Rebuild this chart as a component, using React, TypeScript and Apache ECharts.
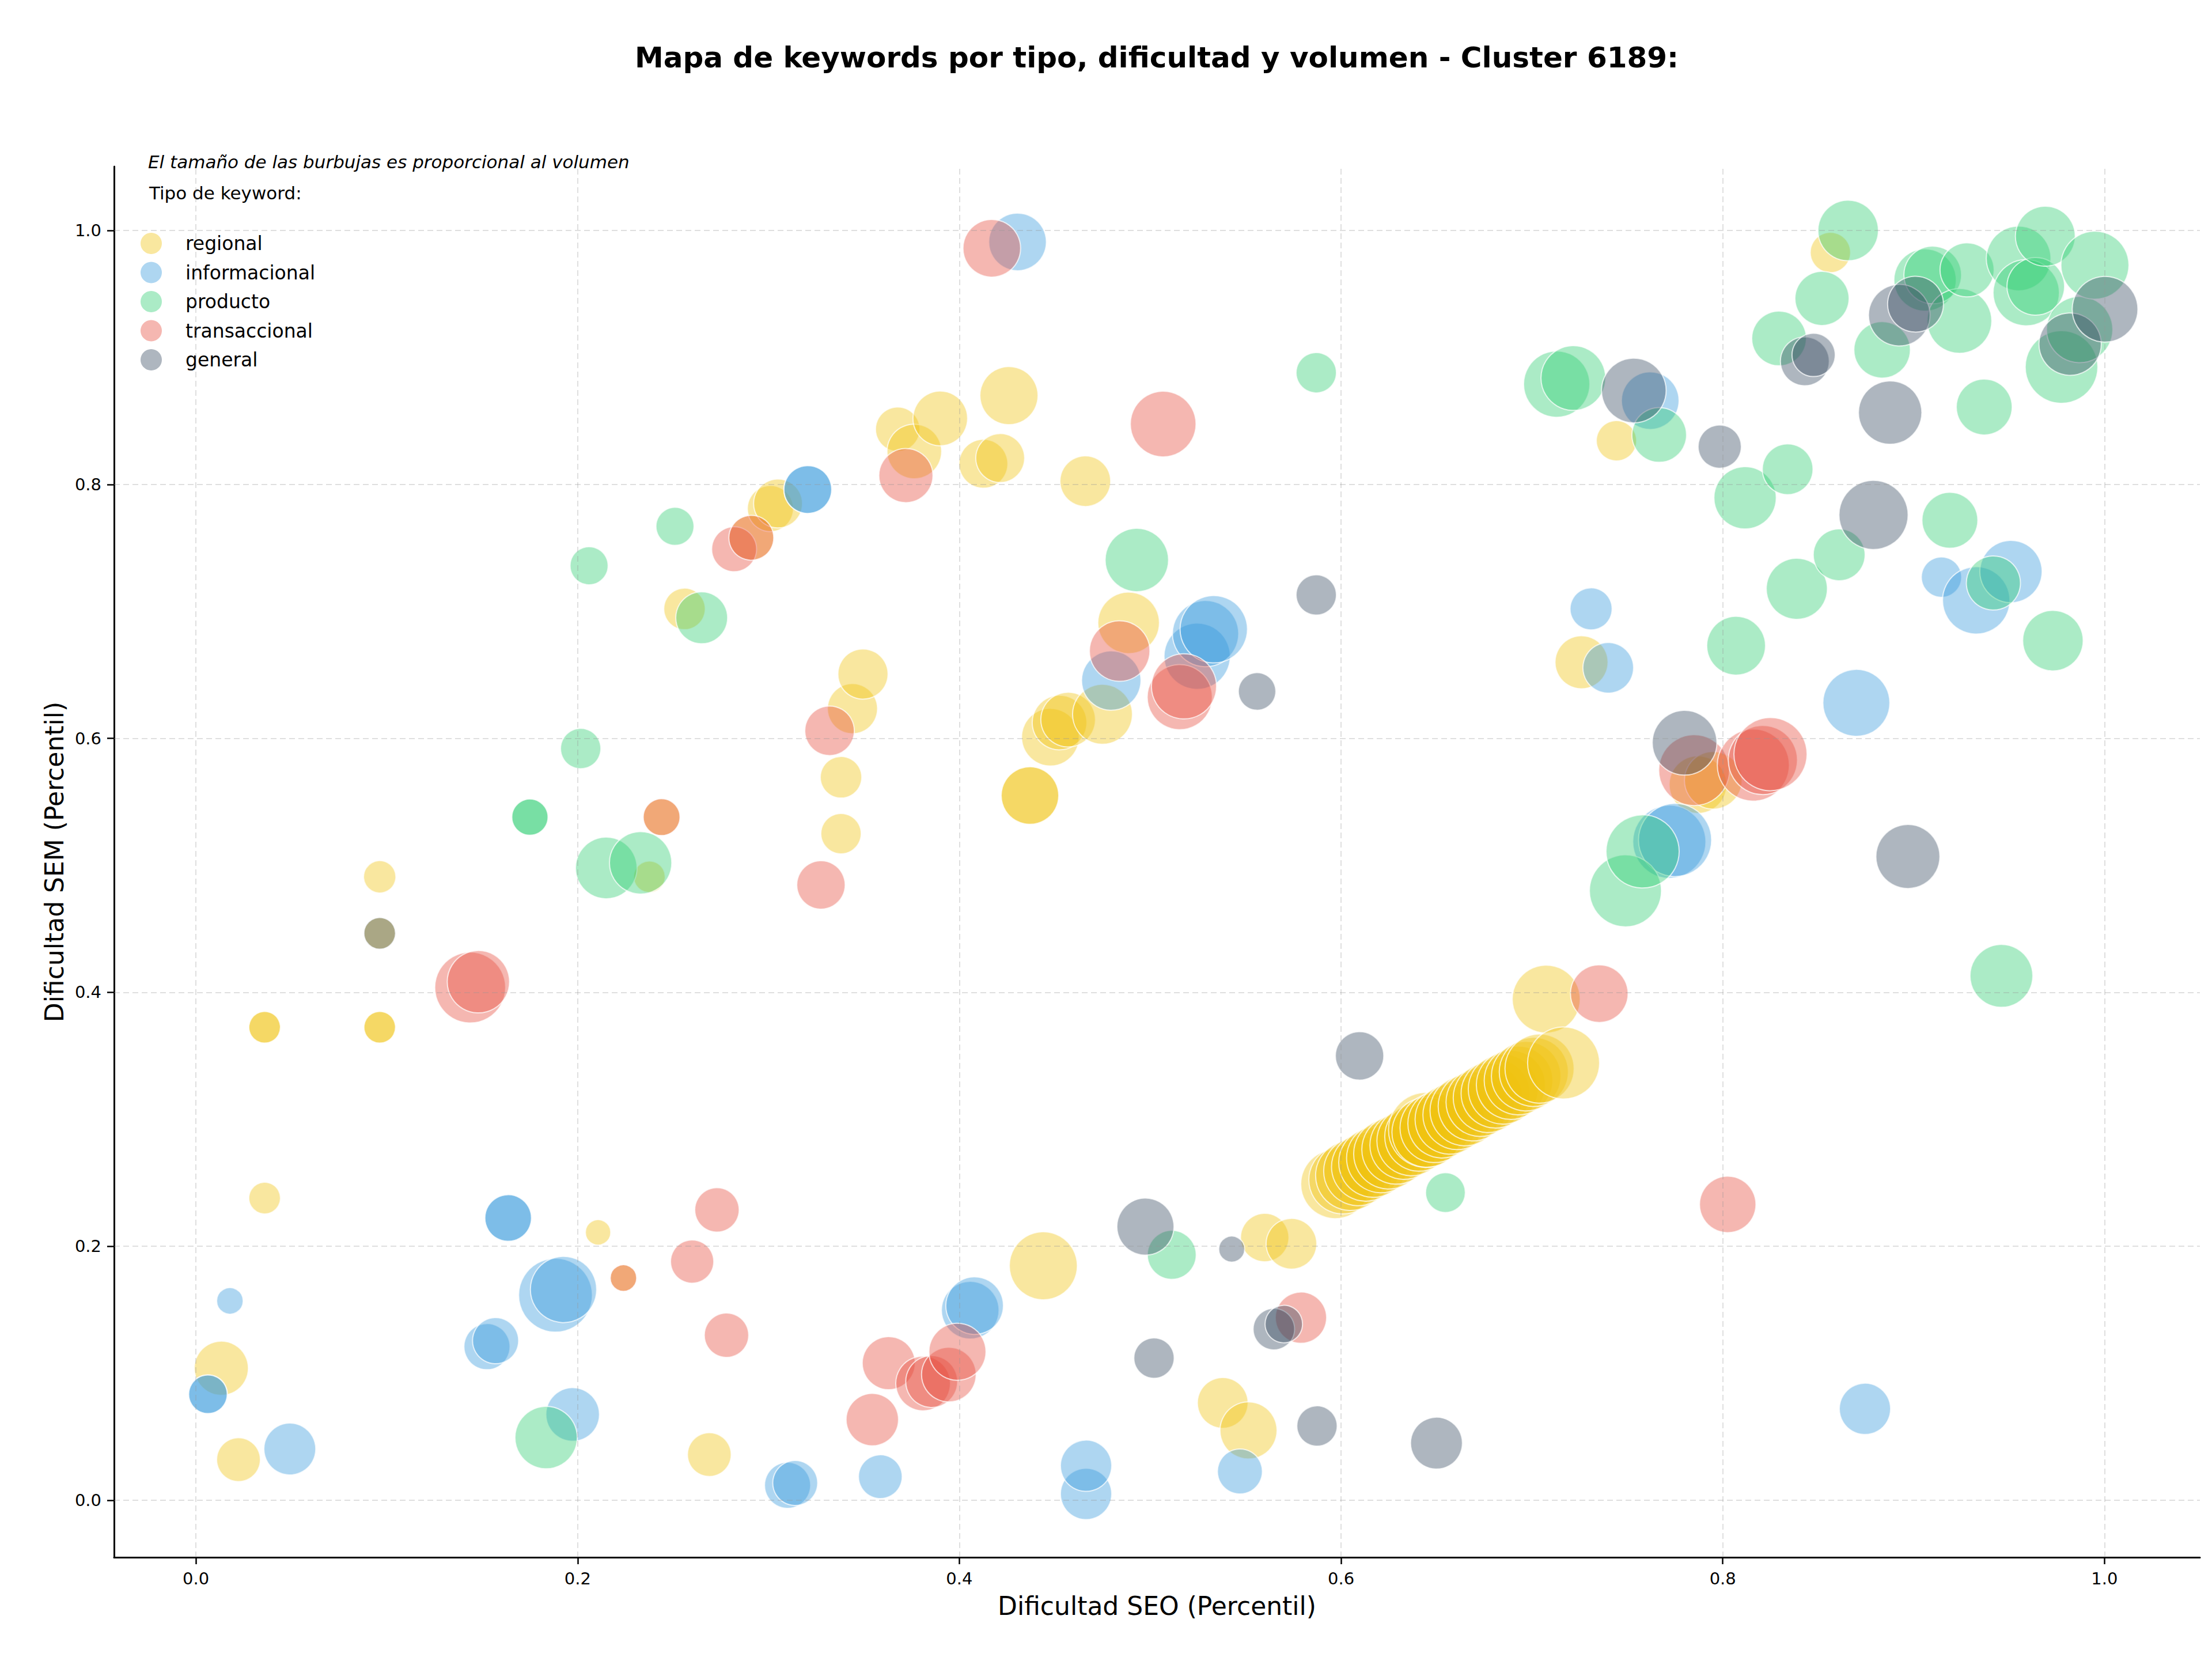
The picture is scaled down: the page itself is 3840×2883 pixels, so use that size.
import React, { useEffect, useRef } from "react";
import * as echarts from "echarts";

// [Dificultad SEO, Dificultad SEM, volumen]
const regional: number[][] = [
  [0.0133, 0.104, 980], [0.0223, 0.032, 640], [0.036, 0.238, 336], [0.036, 0.3725, 336], [0.036, 0.3725, 336],
  [0.0963, 0.491, 350], [0.0963, 0.3725, 336], [0.0963, 0.3725, 336], [0.0963, 0.4465, 336],
  [0.2107, 0.211, 215], [0.224, 0.175, 235], [0.2376, 0.491, 336], [0.244, 0.538, 455], [0.256, 0.702, 576],
  [0.269, 0.036, 640], [0.291, 0.758, 676], [0.301, 0.781, 711], [0.305, 0.785, 800],
  [0.338, 0.5694, 576], [0.338, 0.525, 544], [0.344, 0.6234, 841], [0.3495, 0.6507, 841],
  [0.3677, 0.8435, 660], [0.3764, 0.826, 1000], [0.39, 0.852, 1000], [0.4126, 0.8163, 800], [0.4214, 0.8208, 800],
  [0.426, 0.87, 1130], [0.437, 0.555, 1111], [0.437, 0.555, 1111], [0.444, 0.1847, 1547],
  [0.4477, 0.601, 1111], [0.4525, 0.6125, 1000], [0.457, 0.6148, 1000], [0.466, 0.8026, 860],
  [0.475, 0.619, 1200], [0.4887, 0.691, 1270],
  [0.538, 0.0767, 860], [0.5515, 0.055, 1090], [0.56, 0.2069, 784], [0.574, 0.202, 860],
  [0.597, 0.249, 1600], [0.601, 0.2524, 1560], [0.605, 0.2558, 1640], [0.609, 0.2592, 1600],
  [0.613, 0.2626, 1580], [0.617, 0.266, 1620], [0.621, 0.2694, 1600], [0.625, 0.2728, 1650],
  [0.629, 0.2762, 1600], [0.633, 0.2796, 1560], [0.637, 0.283, 1620], [0.641, 0.2864, 1600],
  [0.6445, 0.2917, 1880], [0.645, 0.2898, 1640], [0.649, 0.2932, 1600], [0.653, 0.2966, 1580],
  [0.657, 0.3, 1620], [0.661, 0.3034, 1600], [0.665, 0.3068, 1650], [0.669, 0.3102, 1600],
  [0.673, 0.3136, 1580], [0.677, 0.317, 1620], [0.681, 0.3204, 1600], [0.685, 0.3238, 1640],
  [0.689, 0.3272, 1600], [0.693, 0.3306, 1580], [0.697, 0.334, 1620], [0.701, 0.3374, 1600],
  [0.704, 0.34, 1600],
  [0.7075, 0.3947, 1547], [0.7166, 0.3444, 1736], [0.726, 0.66, 940], [0.7443, 0.8344, 544],
  [0.787, 0.5636, 1111], [0.795, 0.567, 1111], [0.8564, 0.9827, 544],
];

const informacional: number[][] = [
  [0.0063, 0.0835, 500], [0.0063, 0.0835, 500], [0.0178, 0.157, 235], [0.0492, 0.0404, 900],
  [0.1525, 0.121, 711], [0.157, 0.1257, 711], [0.1636, 0.2223, 729], [0.1636, 0.2223, 729],
  [0.1884, 0.1615, 1820], [0.1926, 0.166, 1470], [0.1974, 0.0676, 961],
  [0.31, 0.0118, 711], [0.314, 0.0136, 676], [0.3206, 0.796, 765], [0.3206, 0.796, 765],
  [0.3586, 0.0186, 640], [0.4057, 0.1497, 1111], [0.408, 0.1533, 1111], [0.4305, 0.991, 1111],
  [0.4664, 0.005, 880], [0.4664, 0.0272, 880], [0.4796, 0.6456, 1180], [0.5246, 0.6647, 1470],
  [0.529, 0.6825, 1470], [0.5333, 0.686, 1520], [0.547, 0.0227, 676],
  [0.731, 0.702, 592], [0.74, 0.6556, 860], [0.762, 0.866, 1111], [0.772, 0.5186, 1790],
  [0.775, 0.52, 1790], [0.87, 0.628, 1500], [0.8745, 0.072, 880], [0.9146, 0.727, 544],
  [0.9328, 0.7087, 1520], [0.951, 0.7314, 1300],
];

const producto: number[][] = [
  [0.175, 0.538, 441], [0.175, 0.538, 441], [0.1835, 0.0494, 1300], [0.2016, 0.592, 544],
  [0.206, 0.736, 484], [0.215, 0.498, 1270], [0.233, 0.502, 1300], [0.251, 0.767, 484],
  [0.265, 0.695, 900], [0.493, 0.7405, 1344], [0.5113, 0.1933, 800], [0.587, 0.888, 544],
  [0.6547, 0.2423, 529], [0.713, 0.879, 1470], [0.7217, 0.8838, 1400], [0.749, 0.48, 1736],
  [0.758, 0.511, 1790], [0.7667, 0.839, 1000], [0.807, 0.673, 1156], [0.8117, 0.7895, 1300],
  [0.8295, 0.915, 1000], [0.834, 0.812, 860], [0.8388, 0.7178, 1250], [0.852, 0.9465, 980],
  [0.861, 0.7446, 900], [0.8657, 1.0, 1225], [0.8835, 0.906, 1067], [0.906, 0.961, 1300],
  [0.91, 0.965, 1111], [0.919, 0.7718, 1045], [0.924, 0.9288, 1400], [0.928, 0.969, 980],
  [0.937, 0.861, 1045], [0.9418, 0.7224, 980], [0.946, 0.413, 1320], [0.955, 0.978, 1400],
  [0.959, 0.951, 1470], [0.964, 0.956, 1111], [0.969, 0.9955, 1200], [0.973, 0.677, 1225],
  [0.9775, 0.8925, 1764], [0.987, 0.922, 1470], [0.995, 0.9727, 1547],
];

const transaccional: number[][] = [
  [0.1437, 0.4038, 1680], [0.148, 0.4084, 1300], [0.224, 0.175, 235], [0.244, 0.538, 455],
  [0.26, 0.188, 625], [0.273, 0.2287, 660], [0.278, 0.13, 660], [0.282, 0.749, 676],
  [0.291, 0.758, 676], [0.3275, 0.4846, 784], [0.332, 0.606, 820], [0.3544, 0.0635, 920],
  [0.363, 0.108, 940], [0.372, 0.807, 980], [0.381, 0.092, 1000], [0.3855, 0.0935, 900],
  [0.3945, 0.099, 1000], [0.399, 0.117, 1090], [0.417, 0.986, 1111], [0.484, 0.6688, 1225],
  [0.5068, 0.8476, 1444], [0.5155, 0.6325, 1420], [0.5177, 0.641, 1420], [0.579, 0.1438, 880],
  [0.7353, 0.399, 1111], [0.785, 0.575, 1680], [0.8026, 0.233, 1067], [0.816, 0.579, 1736],
  [0.821, 0.583, 1600], [0.825, 0.5876, 1790],
];

const general: number[][] = [
  [0.0963, 0.4465, 336], [0.4975, 0.2155, 1090], [0.502, 0.112, 544], [0.5427, 0.1978, 225],
  [0.556, 0.637, 470], [0.5648, 0.1348, 576], [0.57, 0.1388, 470], [0.587, 0.713, 544],
  [0.5874, 0.0585, 544], [0.6097, 0.35, 784], [0.65, 0.045, 900], [0.7534, 0.874, 1400],
  [0.78, 0.5966, 1400], [0.7984, 0.8298, 625], [0.843, 0.897, 800], [0.8476, 0.902, 625],
  [0.879, 0.776, 1600], [0.8877, 0.8566, 1344], [0.8925, 0.9333, 1270], [0.897, 0.507, 1370],
  [0.901, 0.942, 1045], [0.982, 0.9105, 1300], [1.0003, 0.938, 1444],
];

const typeNames = ["regional", "informacional", "producto", "transaccional", "general"];
const typeColors = [
  "rgba(241,196,15,0.5)",
  "rgba(52,152,219,0.5)",
  "rgba(46,204,113,0.5)",
  "rgba(231,76,60,0.5)",
  "rgba(52,73,94,0.5)",
];
const seriesData = [regional, informacional, producto, transaccional, general];

const xTicks = [0, 0.2, 0.4, 0.6, 0.8, 1.0];
const yTicks = [0, 0.2, 0.4, 0.6, 0.8, 1.0];

const titleText = "Mapa de keywords por tipo, dificultad y volumen - Cluster 6189:";
const noteText = "El tamaño de las burbujas es proporcional al volumen";
const legendTitle = "Tipo de keyword:";
const FONT = "DejaVu Sans";

export default function App() {
  const ref = useRef<HTMLDivElement>(null);
  useEffect(() => {
    document.body.style.margin = "0";
    const chart = echarts.init(ref.current!, null, { renderer: "svg" });
    const axisCommon = {
      type: "value",
      axisLine: { show: true, onZero: false, lineStyle: { color: "#000", width: 3 } },
      axisTick: { show: true, inside: false, length: 12, lineStyle: { color: "#000", width: 2.5 } },
      splitLine: { show: false },
      nameLocation: "middle",
      nameTextStyle: { fontFamily: FONT, fontSize: 44, color: "#000" },
    };
    const series: any[] = seriesData.map((d, i) => ({
      name: typeNames[i],
      type: "scatter",
      data: d,
      symbol: "circle",
      symbolSize: (v: number[]) => Math.sqrt(v[2]) * 3,
      itemStyle: { color: typeColors[i], borderColor: "rgba(255,255,255,0.9)", borderWidth: 2 },
      emphasis: { disabled: true },
      z: 2,
    }));
    series[0].markLine = {
      silent: true,
      symbol: ["none", "none"],
      label: { show: false },
      z: 6,
      lineStyle: { color: "rgba(150,150,150,0.3)", width: 2, type: [10, 6] },
      data: [
        ...xTicks.map((v) => ({ xAxis: v })),
        ...yTicks.map((v) => ({ yAxis: v })),
      ],
    };
    chart.setOption({
      animation: false,
      backgroundColor: "#fff",
      textStyle: { fontFamily: FONT },
      grid: { left: 198, right: 21, top: 289, bottom: 180, containLabel: false },
      xAxis: {
        ...axisCommon,
        min: -0.0429,
        max: 1.05,
        name: "Dificultad SEO (Percentil)",
        nameGap: 62,
        axisTick: { ...axisCommon.axisTick, customValues: xTicks },
        axisLabel: {
          customValues: xTicks,
          fontFamily: FONT,
          fontSize: 29,
          color: "#000",
          margin: 22,
          formatter: (v: number) => v.toFixed(1),
        },
      },
      yAxis: {
        ...axisCommon,
        min: -0.0449,
        max: 1.0504,
        name: "Dificultad SEM (Percentil)",
        nameGap: 82,
        axisTick: { ...axisCommon.axisTick, customValues: yTicks },
        axisLabel: {
          customValues: yTicks,
          fontFamily: FONT,
          fontSize: 29,
          color: "#000",
          margin: 22,
          formatter: (v: number) => v.toFixed(1),
        },
      },
      legend: {
        data: typeNames,
        orient: "vertical",
        left: 244,
        top: 404,
        padding: 0,
        itemWidth: 37,
        itemHeight: 37,
        itemGap: 13.5,
        icon: "circle",
        selectedMode: false,
        itemStyle: { borderWidth: 0 },
        textStyle: { fontFamily: FONT, fontSize: 33, color: "#000", padding: [0, 0, 0, 36] },
      },
      graphic: [
        {
          type: "text",
          x: 2008,
          y: 100,
          style: {
            text: titleText,
            fontFamily: FONT,
            fontSize: 50,
            fontWeight: "bold",
            fill: "#000",
            textAlign: "center",
            textVerticalAlign: "middle",
          },
        },
        {
          type: "text",
          x: 257,
          y: 281,
          style: {
            text: noteText,
            fontFamily: FONT,
            fontSize: 31,
            fontStyle: "italic",
            fill: "#000",
            textAlign: "left",
            textVerticalAlign: "middle",
          },
        },
        {
          type: "text",
          x: 259,
          y: 335,
          style: {
            text: legendTitle,
            fontFamily: FONT,
            fontSize: 31,
            fill: "#000",
            textAlign: "left",
            textVerticalAlign: "middle",
          },
        },
      ],
      series,
    });
    return () => chart.dispose();
  }, []);
  return (
    <div
      ref={ref}
      style={{ position: "absolute", left: 0, top: 0, width: 3840, height: 2883 }}
    />
  );
}
